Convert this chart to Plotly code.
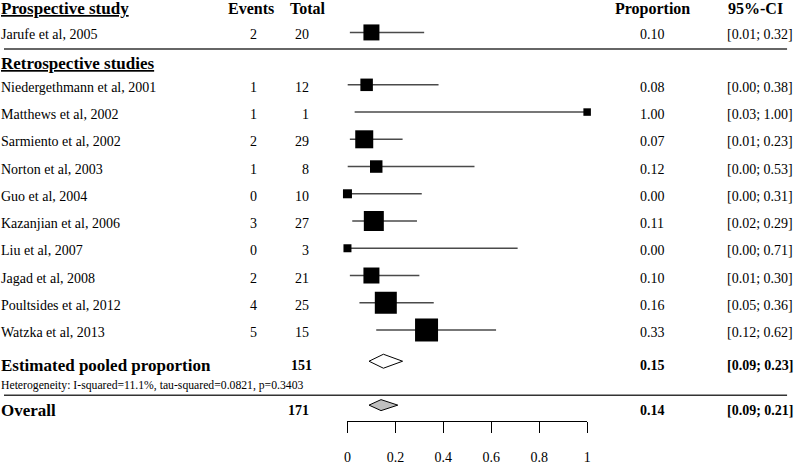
import plotly.graph_objects as go

# ---------------- data ----------------
pro_names = ["Jarufe et al, 2005"]
pro_events = [2]
pro_totals = [20]
pro_prop = [0.10]
pro_lo = [0.01]
pro_hi = [0.32]

retro_names = ["Niedergethmann et al, 2001", "Matthews et al, 2002", "Sarmiento et al, 2002",
               "Norton et al, 2003", "Guo et al, 2004", "Kazanjian et al, 2006", "Liu et al, 2007",
               "Jagad et al, 2008", "Poultsides et al, 2012", "Watzka et al, 2013"]
retro_events = [1, 1, 2, 1, 0, 3, 0, 2, 4, 5]
retro_totals = [12, 1, 29, 8, 10, 27, 3, 21, 25, 15]
retro_prop = [0.08, 1.00, 0.07, 0.12, 0.00, 0.11, 0.00, 0.10, 0.16, 0.33]
retro_lo = [0.00, 0.03, 0.01, 0.00, 0.00, 0.02, 0.00, 0.01, 0.05, 0.12]
retro_hi = [0.38, 1.00, 0.23, 0.53, 0.31, 0.29, 0.71, 0.30, 0.36, 0.62]

pooled_total = 151
pooled_prop = 0.15
pooled_lo = 0.09
pooled_hi = 0.23

overall_total = 171
overall_prop = 0.14
overall_lo = 0.09
overall_hi = 0.21

heterogeneity = "Heterogeneity: I-squared=11.1%, tau-squared=0.0821, p=0.3403"
tick_vals = [0, 0.2, 0.4, 0.6, 0.8, 1]
tick_text = ["0", "0.2", "0.4", "0.6", "0.8", "1"]

# ---------------- layout / style ----------------
W, H = 798, 465
FONT = "Liberation Serif"
AX0_PX, AX1_PX = 346.5, 588.3
TEXT_DY = 2.5
Y_HEADER = 9
Y_PRO = [32.5]
Y_SEP1 = 49
Y_RETRO_HEAD = 64
Y_RETRO = [85 + 27.3 * i for i in range(len(retro_names))]
Y_POOLED = 362
Y_POOLED_TXT = 366.5
Y_HET = 386
Y_SEP2 = 396
Y_OVERALL = 406
Y_OVERALL_TXT = 411
Y_AXIS = 422
PRO_SQ = [16]
RETRO_SQ = [12.5, 7.5, 18, 12.5, 9, 20, 8, 16, 22, 23]
X_NAME = -3
X_EVENTS_R = 255
X_TOTAL_R = 308
X_PROP_C = 654
X_CI_L = 729

fig = go.Figure()

names = pro_names + retro_names
events = pro_events + retro_events
totals = pro_totals + retro_totals
props = pro_prop + retro_prop
los = pro_lo + retro_lo
his = pro_hi + retro_hi
ys = Y_PRO + Y_RETRO
sq = PRO_SQ + RETRO_SQ

# CI lines
lx, ly = [], []
for lo, hi, y in zip(los, his, ys):
    lx += [lo, hi, None]
    ly += [y, y, None]
fig.add_trace(go.Scatter(x=lx, y=ly, mode="lines", line=dict(color="#4a4a4a", width=1.5),
                         hoverinfo="skip", showlegend=False, cliponaxis=False))
# squares
fig.add_trace(go.Scatter(x=props, y=ys, mode="markers",
                         marker=dict(symbol="square", size=sq, color="#000000", opacity=1,
                                     line=dict(width=0)),
                         showlegend=False, cliponaxis=False))


def diamond(est, lo, hi, yc, half_h, fill):
    fig.add_trace(go.Scatter(x=[lo, est, hi, est, lo], y=[yc, yc - half_h, yc, yc + half_h, yc],
                             mode="lines", fill="toself", fillcolor=fill,
                             line=dict(color="black", width=1), showlegend=False,
                             hoverinfo="skip", cliponaxis=False))


diamond(pooled_prop, pooled_lo, pooled_hi, Y_POOLED, 7, "white")
diamond(overall_prop, overall_lo, overall_hi, Y_OVERALL, 5.5, "#c0c0c0")

ann = []


def txt(s, xpx, y, size=14, anchor="left", bold=False):
    if bold:
        s = "<b>" + s + "</b>"
    ann.append(dict(text=s, x=xpx / W, y=y, xref="paper", yref="y", xanchor=anchor,
                    yanchor="middle", showarrow=False, borderpad=0, borderwidth=0,
                    font=dict(family=FONT, size=size, color="black")))


# headers
txt("<u>Prospective study</u>", X_NAME, Y_HEADER, 17, bold=True)
txt("Events", 249, Y_HEADER, 16, "center", True)
txt("Total", 307, Y_HEADER, 16, "center", True)
txt("Proportion", X_PROP_C, Y_HEADER, 16, "center", True)
txt("95%-CI", 758, Y_HEADER, 16, "center", True)
txt("<u>Retrospective studies</u>", X_NAME, Y_RETRO_HEAD, 17, bold=True)

for n, e, t, p, lo, hi, y in zip(names, events, totals, props, los, his, ys):
    ty = y + TEXT_DY
    txt(n, X_NAME, ty)
    txt(str(e), X_EVENTS_R, ty, anchor="right")
    txt(str(t), X_TOTAL_R, ty, anchor="right")
    txt(f"{p:.2f}", X_PROP_C, ty, anchor="center")
    txt(f"[{lo:.2f}; {hi:.2f}]", X_CI_L, ty)

txt("Estimated pooled proportion", X_NAME, Y_POOLED_TXT, 17, bold=True)
txt(str(pooled_total), 311, Y_POOLED_TXT, 14, "right", True)
txt(f"{pooled_prop:.2f}", X_PROP_C, Y_POOLED_TXT, 14, "center", True)
txt(f"[{pooled_lo:.2f}; {pooled_hi:.2f}]", X_CI_L, Y_POOLED_TXT, 14, bold=True)
txt(heterogeneity, X_NAME, Y_HET, 11.7)
txt("Overall", X_NAME, Y_OVERALL_TXT, 17, bold=True)
txt(str(overall_total), X_TOTAL_R, Y_OVERALL_TXT, 14, "right", True)
txt(f"{overall_prop:.2f}", X_PROP_C, Y_OVERALL_TXT, 14, "center", True)
txt(f"[{overall_lo:.2f}; {overall_hi:.2f}]", X_CI_L, Y_OVERALL_TXT, 14, bold=True)

shapes = [
    dict(type="line", xref="paper", yref="y", x0=0, x1=790 / W, y0=Y_SEP1, y1=Y_SEP1,
         line=dict(color="#333333", width=1.5)),
    dict(type="line", xref="paper", yref="y", x0=0, x1=790 / W, y0=Y_SEP2, y1=Y_SEP2,
         line=dict(color="#333333", width=1.5)),
]

fig.update_layout(
    width=W, height=H, margin=dict(l=0, r=0, t=0, b=0),
    paper_bgcolor="white", plot_bgcolor="white",
    annotations=ann, shapes=shapes,
    xaxis=dict(domain=[AX0_PX / W, AX1_PX / W], range=[0, 1], anchor="free",
               position=1 - Y_AXIS / H, showline=True, linecolor="black", linewidth=1,
               ticks="outside", ticklen=11, tickwidth=1, tickcolor="black",
               tickvals=tick_vals, ticktext=tick_text, showgrid=False, zeroline=False,
               ticklabelstandoff=12,
               tickfont=dict(family=FONT, size=14, color="black")),
    yaxis=dict(domain=[0, 1], range=[H, 0], visible=False, showgrid=False, zeroline=False),
)

fig.write_html("out.html", config={"displayModeBar": False})

# remove default page margin so the 798x465 figure fills the window exactly
with open("out.html", "r", encoding="utf-8") as f:
    html = f.read()
html = html.replace("<head>", "<head><style>html,body{margin:0;padding:0;overflow:hidden;}</style>", 1)
with open("out.html", "w", encoding="utf-8") as f:
    f.write(html)
